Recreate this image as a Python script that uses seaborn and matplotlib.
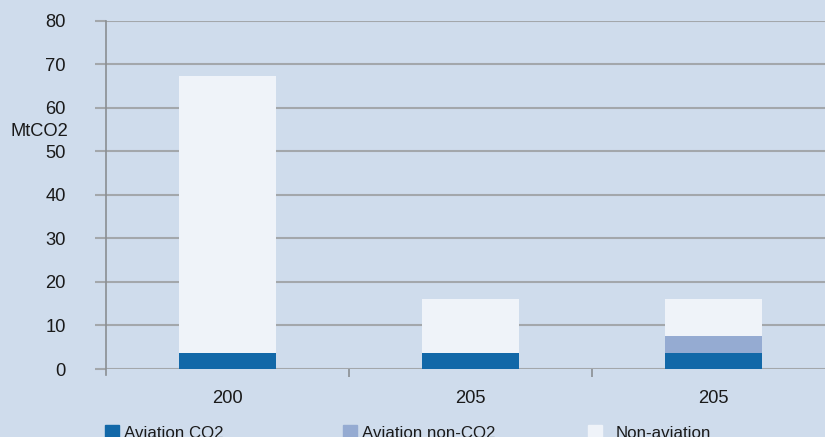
import matplotlib
matplotlib.use("Agg")
import matplotlib.pyplot as plt
import matplotlib.patches as mpatches
import seaborn as sns
import pandas as pd

# Emissions by scenario (MtCO2)
year_labels = ["200", "205", "205"]
aviation_co2 = [3.7, 3.7, 3.7]
aviation_non_co2 = [0.0, 0.0, 3.8]
non_aviation = [63.5, 12.3, 8.5]
series_names = ["Aviation CO2", "Aviation non-CO2", "Non-aviation"]

c_co2 = "#1268a8"
c_nonco2 = "#95abd2"
c_nonav = "#eff3f9"
bg = "#cfdcec"
grid_c = "#a3a7ab"
text_c = "#1a1a1a"
fs = 13.2
legend_fs = 12.2

sns.set_theme(style="white")
plt.rcParams["font.family"] = ["Liberation Sans", "DejaVu Sans"]
plt.rcParams["font.size"] = fs

df = pd.DataFrame({
    "pos": list(range(len(year_labels))),
    "co2": aviation_co2,
    "nonco2": aviation_non_co2,
    "nonav": non_aviation,
})
df["aviation_total"] = df["co2"] + df["nonco2"]
df["total"] = df["aviation_total"] + df["nonav"]

fig = plt.figure(figsize=(8.25, 4.37), dpi=100, facecolor=bg)
ax = fig.add_axes([106 / 825, 1 - 369 / 437, 729 / 825, (369 - 20.7) / 437])
ax.set_facecolor(bg)

# stacked layers drawn as cumulative totals, back to front
for col, color in [("total", c_nonav), ("aviation_total", c_nonco2), ("co2", c_co2)]:
    sns.barplot(data=df, x="pos", y=col, color=color, width=0.4,
                saturation=1, ax=ax, linewidth=0, zorder=3)

ax.set_ylim(0, 80)
ax.set_xlim(-0.5, 2.5)
ax.set_yticks(range(0, 81, 10))
ax.yaxis.grid(True, color=grid_c, linewidth=1.5, zorder=1)
ax.set_axisbelow(True)
ax.tick_params(axis="y", length=8, width=1.5, color=grid_c, pad=21,
               labelsize=fs, labelcolor=text_c, left=True)

ax.set_xticks([0, 1, 2])
ax.set_xticklabels(year_labels)
ax.set_xticks([0.5, 1.5], minor=True)
ax.tick_params(axis="x", which="major", length=0, pad=15,
               labelsize=fs, labelcolor=text_c)
ax.tick_params(axis="x", which="minor", length=6, width=1.2,
               color="#8a8e92", bottom=True)

for s in ["top", "right", "bottom"]:
    ax.spines[s].set_visible(False)
ax.spines["left"].set_color("#8a8e92")
ax.spines["left"].set_linewidth(1.2)
ax.spines["left"].set_bounds(-1.4, 80)
ax.set_xlabel("")
ax.set_ylabel("")

fig.text(10 / 825, 1 - 131 / 437, "MtCO2", ha="left", va="center",
         fontsize=fs, color=text_c)

# legend entries along the bottom edge
legend_x = [105, 343, 588]
legend_pad = [0.3, 0.3, 0.8]
for name, color, x, pad in zip(series_names, [c_co2, c_nonco2, c_nonav],
                               legend_x, legend_pad):
    h = mpatches.Patch(color=color, label=name)
    leg = fig.legend(handles=[h], loc="center left",
                     bbox_to_anchor=(x / 825, 1 - 433 / 437),
                     frameon=False, fontsize=legend_fs, handlelength=0.85,
                     handleheight=0.85, handletextpad=pad,
                     borderaxespad=0, borderpad=0)
    for t in leg.get_texts():
        t.set_color(text_c)

fig.savefig("out.png", dpi=100, facecolor=bg)
